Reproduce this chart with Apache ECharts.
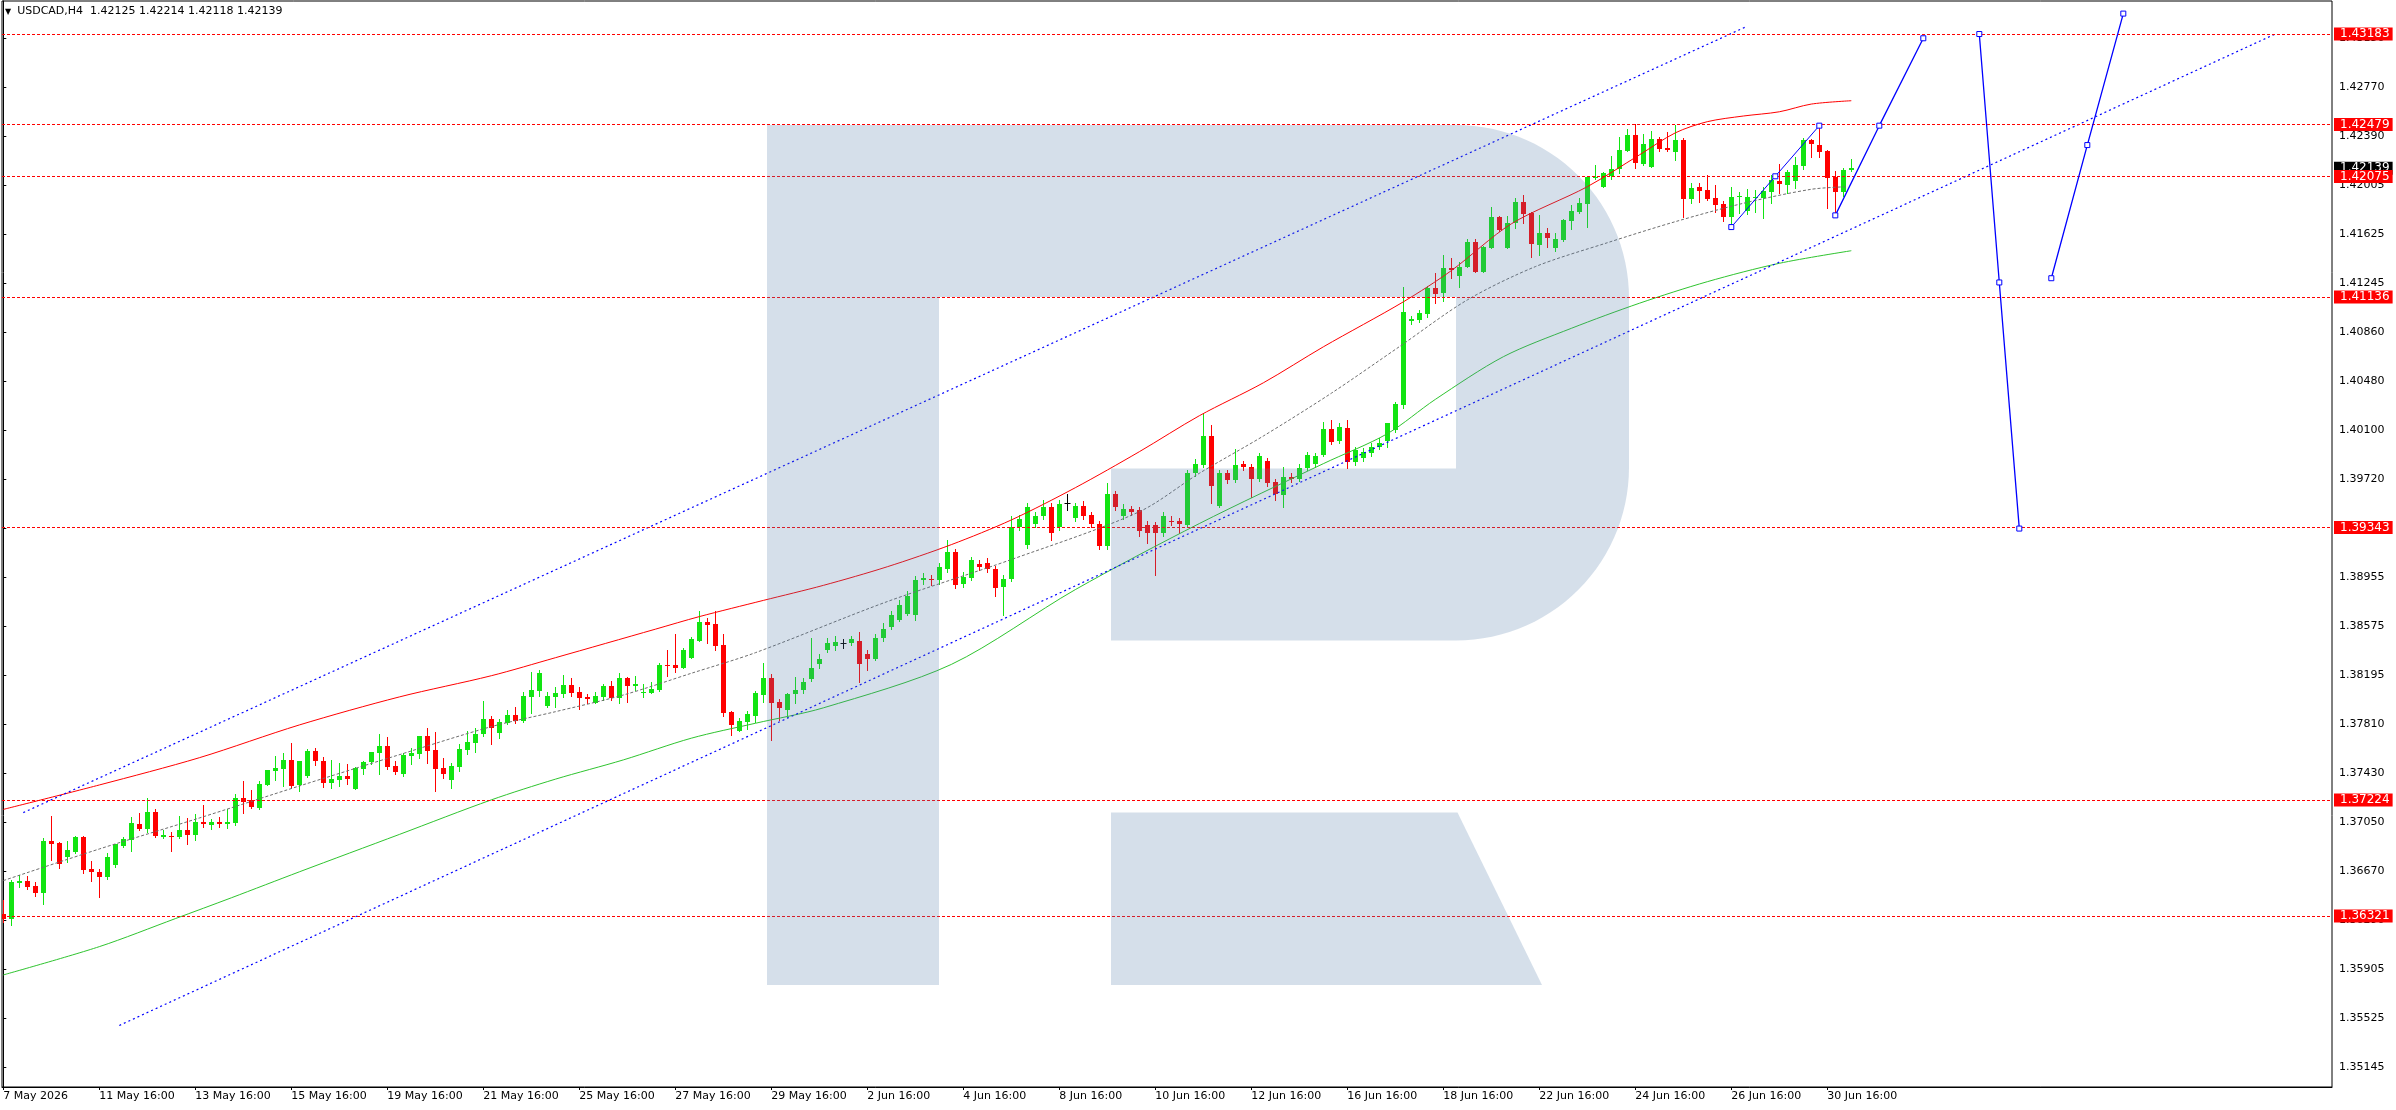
<!DOCTYPE html>
<html>
<head>
<meta charset="utf-8">
<script src="https://cdn.jsdelivr.net/npm/echarts@6/dist/echarts.min.js"></script>
<style>
html,body{margin:0;padding:0;background:#ffffff;}
#chart{width:2396px;height:1110px;}
</style>
</head>
<body>
<div id="chart"></div>
<script>
// ---------------- DATA ----------------
const symbolName = 'USDCAD,H4';

// H4 candles, one row per bar: [open, high, low, close]
const ohlc = [
[1.36336,1.36445,1.36277,1.36300],[1.36300,1.36601,1.36254,1.36585],[1.36580,1.36637,1.36549,1.36593],[1.36591,1.36632,1.36531,1.36549],
[1.36552,1.36585,1.36479,1.36502],[1.36502,1.36930,1.36417,1.36904],[1.36904,1.37099,1.36757,1.36883],[1.36889,1.36894,1.36697,1.36728],
[1.36783,1.36904,1.36741,1.36832],[1.36819,1.36946,1.36811,1.36935],[1.36935,1.36940,1.36655,1.36679],[1.36687,1.36746,1.36596,1.36666],
[1.36663,1.36689,1.36471,1.36627],[1.36627,1.36814,1.36609,1.36780],[1.36720,1.36884,1.36702,1.36881],[1.36865,1.36938,1.36855,1.36920],
[1.36915,1.37091,1.36829,1.37042],[1.37034,1.37122,1.36993,1.37000],[1.37000,1.37241,1.36977,1.37130],[1.37130,1.37153,1.36938,1.36946],
[1.36933,1.36990,1.36928,1.36948],[1.36946,1.36972,1.36827,1.36941],[1.36935,1.37099,1.36930,1.36990],[1.36990,1.37083,1.36883,1.36954],
[1.36954,1.37115,1.36915,1.37052],[1.37052,1.37184,1.37016,1.37039],[1.37031,1.37076,1.37000,1.37052],[1.37052,1.37091,1.37016,1.37039],
[1.37039,1.37153,1.37008,1.37052],[1.37044,1.37270,1.37031,1.37239],[1.37239,1.37371,1.37125,1.37210],[1.37221,1.37301,1.37164,1.37171],
[1.37164,1.37371,1.37151,1.37348],[1.37343,1.37460,1.37340,1.37457],[1.37452,1.37566,1.37381,1.37472],[1.37464,1.37589,1.37335,1.37534],
[1.37534,1.37669,1.37319,1.37330],[1.37340,1.37530,1.37296,1.37527],[1.37410,1.37623,1.37400,1.37604],[1.37604,1.37628,1.37496,1.37529],
[1.37527,1.37560,1.37327,1.37358],[1.37358,1.37534,1.37314,1.37387],[1.37381,1.37511,1.37335,1.37410],[1.37410,1.37503,1.37350,1.37389],
[1.37311,1.37480,1.37308,1.37472],[1.37467,1.37527,1.37428,1.37519],[1.37519,1.37600,1.37506,1.37597],[1.37592,1.37737,1.37428,1.37643],
[1.37643,1.37713,1.37462,1.37483],[1.37488,1.37527,1.37428,1.37441],
[1.37428,1.37587,1.37410,1.37576],[1.37566,1.37626,1.37504,1.37592],[1.37584,1.37724,1.37553,1.37721],[1.37721,1.37784,1.37514,1.37607],
[1.37613,1.37750,1.37296,1.37467],[1.37473,1.37550,1.37397,1.37428],[1.37379,1.37511,1.37317,1.37488],[1.37480,1.37662,1.37449,1.37620],
[1.37615,1.37760,1.37584,1.37675],[1.37667,1.37786,1.37597,1.37740],[1.37740,1.37994,1.37724,1.37854],[1.37854,1.37877,1.37659,1.37786],
[1.37747,1.37854,1.37706,1.37830],[1.37823,1.37924,1.37815,1.37885],[1.37885,1.37947,1.37825,1.37841],[1.37836,1.38064,1.37833,1.38033],
[1.38025,1.38219,1.37903,1.38079],[1.38072,1.38235,1.38033,1.38212],[1.37957,1.38064,1.37950,1.38033],[1.38025,1.38103,1.37950,1.38056],
[1.38048,1.38196,1.38025,1.38118],[1.38118,1.38173,1.38035,1.38059],[1.38064,1.38103,1.37934,1.38017],[1.38025,1.38048,1.37978,1.38012],
[1.37981,1.38064,1.37976,1.38033],[1.38025,1.38126,1.38000,1.38110],[1.38110,1.38149,1.38004,1.38020],[1.38017,1.38212,1.37981,1.38173],
[1.38173,1.38180,1.37986,1.38110],[1.38113,1.38188,1.38079,1.38126],[1.38056,1.38126,1.38025,1.38064],[1.38056,1.38142,1.38053,1.38087],
[1.38079,1.38289,1.38072,1.38274],[1.38274,1.38390,1.38188,1.38266],[1.38274,1.38515,1.38219,1.38253],[1.38250,1.38406,1.38247,1.38390],
[1.38331,1.38492,1.38328,1.38476],[1.38460,1.38694,1.38457,1.38608],[1.38608,1.38639,1.38445,1.38588],[1.38593,1.38694,1.38390,1.38422],
[1.38429,1.38515,1.37877,1.37900],[1.37908,1.37916,1.37729,1.37807],[1.37760,1.37862,1.37757,1.37838],[1.37830,1.37916,1.37776,1.37893],
[1.37877,1.38072,1.37830,1.38056],[1.38040,1.38289,1.37986,1.38173],[1.38173,1.38204,1.37690,1.37978],[1.37986,1.38009,1.37846,1.37939],
[1.37924,1.38053,1.37872,1.38048],
[1.38044,1.38184,1.37974,1.38077],[1.38077,1.38170,1.38058,1.38138],[1.38161,1.38487,1.38147,1.38254],[1.38278,1.38357,1.38254,1.38324],
[1.38394,1.38487,1.38371,1.38441],[1.38418,1.38497,1.38394,1.38450],[1.38441,1.38478,1.38404,1.38441],[1.38441,1.38497,1.38427,1.38478],
[1.38464,1.38534,1.38138,1.38278],[1.38361,1.38394,1.38231,1.38324],[1.38324,1.38511,1.38310,1.38487],[1.38487,1.38604,1.38464,1.38557],
[1.38571,1.38697,1.38557,1.38660],[1.38627,1.38777,1.38613,1.38744],[1.38674,1.38851,1.38660,1.38814],[1.38665,1.38963,1.38627,1.38931],
[1.38931,1.38991,1.38907,1.38954],[1.38945,1.38977,1.38898,1.38931],[1.38931,1.39071,1.38907,1.39038],[1.39024,1.39243,1.39001,1.39154],
[1.39154,1.39173,1.38870,1.38898],[1.38907,1.39001,1.38884,1.38959],[1.38954,1.39117,1.38931,1.39093],[1.39056,1.39093,1.39010,1.39038],
[1.39070,1.39103,1.39001,1.39024],[1.39024,1.39047,1.38814,1.38870],[1.38884,1.38977,1.38660,1.38945],[1.38945,1.39430,1.38926,1.39350],
[1.39350,1.39444,1.39327,1.39406],[1.39210,1.39537,1.39187,1.39504],[1.39374,1.39467,1.39350,1.39434],[1.39430,1.39560,1.39411,1.39504],
[1.39504,1.39537,1.39243,1.39304],[1.39350,1.39560,1.39327,1.39528],[1.39537,1.39607,1.39476,1.39537],[1.39420,1.39537,1.39397,1.39514],
[1.39514,1.39551,1.39411,1.39434],[1.39444,1.39467,1.39350,1.39374],[1.39374,1.39397,1.39178,1.39196],[1.39196,1.39691,1.39178,1.39607],
[1.39607,1.39630,1.39476,1.39504],[1.39430,1.39523,1.39406,1.39486],[1.39486,1.39514,1.39444,1.39467],[1.39476,1.39504,1.39280,1.39313],
[1.39364,1.39397,1.39224,1.39304],[1.39364,1.39383,1.38977,1.39304],[1.39304,1.39467,1.39280,1.39430],[1.39397,1.39430,1.39364,1.39388],
[1.39397,1.39420,1.39304,1.39374],[1.39364,1.39793,1.39350,1.39765],[1.39765,1.39877,1.39747,1.39835],[1.39831,1.40232,1.39817,1.40055],
[1.40055,1.40143,1.39537,1.39663],[1.39514,1.39793,1.39504,1.39770],[1.39770,1.39793,1.39691,1.39714],[1.39714,1.39952,1.39700,1.39826],
[1.39835,1.39859,1.39793,1.39817],[1.39817,1.39840,1.39584,1.39723],[1.39723,1.39924,1.39709,1.39896],[1.39859,1.39887,1.39663,1.39691],
[1.39700,1.39723,1.39560,1.39607],[1.39598,1.39817,1.39504,1.39737],[1.39737,1.39765,1.39700,1.39723],[1.39723,1.39840,1.39709,1.39803],
[1.39803,1.39933,1.39793,1.39910],[1.39840,1.39924,1.39817,1.39896],[1.39910,1.40167,1.39896,1.40111],
[1.40107,1.40180,1.39993,1.40011],[1.40019,1.40154,1.39998,1.40123],[1.40118,1.40180,1.39803,1.39854],[1.39854,1.39971,1.39831,1.39943],
[1.39887,1.39961,1.39863,1.39933],[1.39924,1.39999,1.39896,1.39971],[1.39971,1.40036,1.39952,1.40003],[1.40017,1.40160,1.39971,1.40154],
[1.40102,1.40323,1.40089,1.40304],[1.40297,1.41217,1.40271,1.41023],[1.40953,1.40989,1.40927,1.40963],[1.40958,1.41036,1.40945,1.41015],
[1.41005,1.41222,1.40984,1.41204],[1.41204,1.41326,1.41093,1.41160],[1.41165,1.41463,1.41108,1.41360],[1.41360,1.41438,1.41282,1.41347],
[1.41300,1.41412,1.41217,1.41373],[1.41373,1.41585,1.41368,1.41567],[1.41567,1.41585,1.41329,1.41334],[1.41334,1.41533,1.41329,1.41523],
[1.41521,1.41834,1.41515,1.41756],[1.41756,1.41767,1.41653,1.41658],[1.41521,1.41769,1.41515,1.41710],[1.41710,1.41904,1.41671,1.41873],
[1.41873,1.41930,1.41710,1.41782],[1.41793,1.41801,1.41445,1.41549],[1.41541,1.41775,1.41463,1.41632],[1.41632,1.41674,1.41528,1.41598],
[1.41518,1.41637,1.41497,1.41585],[1.41580,1.41741,1.41572,1.41736],[1.41731,1.41850,1.41663,1.41808],[1.41798,1.41907,1.41793,1.41865],
[1.41860,1.42078,1.41679,1.42068],[1.42062,1.42164,1.42052,1.42073],[1.41995,1.42112,1.41990,1.42099],[1.42078,1.42234,1.42052,1.42135],
[1.42135,1.42384,1.42104,1.42280],[1.42275,1.42444,1.42270,1.42397],[1.42397,1.42482,1.42143,1.42177],[1.42171,1.42405,1.42164,1.42327],
[1.42151,1.42428,1.42145,1.42363],[1.42363,1.42384,1.42272,1.42291],[1.42293,1.42423,1.42272,1.42278],[1.42267,1.42475,1.42202,1.42358],
[1.42358,1.42376,1.41759,1.41896],[1.41896,1.42021,1.41865,1.41985],[1.41990,1.42021,1.41873,1.41964],[1.41969,1.42083,1.41891,1.41896],
[1.41904,1.42008,1.41801,1.41852],[1.41860,1.41884,1.41731,1.41762],[1.41762,1.41995,1.41690,1.41912],[1.41912,1.41956,1.41793,1.41922],
[1.41808,1.41974,1.41782,1.41912],[1.41904,1.41969,1.41801,1.41917],[1.41904,1.41995,1.41749,1.41959],[1.41956,1.42086,1.41871,1.42047],
[1.42039,1.42171,1.41948,1.42013],[1.42008,1.42125,1.41948,1.42109],[1.42042,1.42228,1.41987,1.42164],[1.42158,1.42371,1.42130,1.42358],
[1.42358,1.42363,1.42228,1.42324],[1.42319,1.42467,1.42228,1.42267],[1.42272,1.42280,1.41826,1.42065],[1.42073,1.42117,1.41780,1.41956],
[1.41956,1.42138,1.41922,1.42125],[1.42125,1.42214,1.42118,1.42139]
];

// bottom axis: bar index of each date label and its text
const dateTickIndex = [0,12,24,36,48,60,72,84,96,108,120,132,144,156,168,180,192,204,216,228];
const dateTickLabels = ['7 May 2026','11 May 16:00','13 May 16:00','15 May 16:00','19 May 16:00','21 May 16:00',
  '25 May 16:00','27 May 16:00','29 May 16:00','2 Jun 16:00','4 Jun 16:00','8 Jun 16:00','10 Jun 16:00',
  '12 Jun 16:00','16 Jun 16:00','18 Jun 16:00','22 Jun 16:00','24 Jun 16:00','26 Jun 16:00','30 Jun 16:00'];

// right price scale ticks
const priceTicks = [1.43150,1.42770,1.42390,1.42005,1.41625,1.41245,1.40860,1.40480,1.40100,1.39720,1.39340,
  1.38955,1.38575,1.38195,1.37810,1.37430,1.37050,1.36670,1.36290,1.35905,1.35525,1.35145];

// horizontal support / resistance levels
const levels = [1.43183,1.42479,1.42075,1.41136,1.39343,1.37224,1.36321];

// moving averages, sampled [bar index, price]
const maRed = [[0,1.37150],[12,1.37340],[24.5,1.37552],[37,1.37807],[49.5,1.38025],[61,1.38190],[69,1.38330],
  [81.5,1.38552],[87,1.38650],[95,1.38776],[102.5,1.38893],[110.5,1.39038],[118.5,1.39210],[126,1.39402],
  [134,1.39653],[142,1.39933],[149.5,1.40213],[157.5,1.40469],[165,1.40749],[175,1.41099],[181,1.41342],
  [188.5,1.41706],[198,1.41995],[204.5,1.42242],[209,1.42414],[213,1.42501],[217.5,1.42545],[222,1.42578],
  [226,1.42638],[231,1.42664]];
const maGreen = [[0,1.35862],[12,1.36082],[21.5,1.36300],[28.5,1.36462],[37,1.36664],[49.5,1.36955],[61,1.37224],
  [69,1.37385],[77.5,1.37535],[86,1.37704],[94,1.37820],[102.5,1.37940],[118.5,1.38278],[134,1.38860],
  [149.5,1.39374],[165,1.39840],[173,1.40073],[179,1.40340],[187.5,1.40672],[196,1.40893],[204.5,1.41088],
  [213,1.41256],[222,1.41399],[231,1.41497]];
const maGray = [[0,1.36596],[12,1.36842],[24.5,1.37083],[37,1.37332],[48.5,1.37556],[61,1.37794],[69,1.37910],
  [77.5,1.38040],[86,1.38209],[94,1.38369],[110.5,1.38767],[126,1.39094],[142,1.39466],[149.5,1.39765],
  [157.5,1.40055],[166,1.40388],[174.5,1.40750],[183,1.41114],[191.5,1.41373],[200.5,1.41559],[209,1.41723],
  [217.5,1.41866],[226,1.41975],[230.5,1.41995]];

// trend channel (dotted)
const channelUpper = [[2.5,1.37125],[218,1.43244]];
const channelLower = [[14.5,1.35469],[284,1.43183]];

// wave marks and forecast path
const waveLast = [[216,1.41681],[221.5,1.42076],[227,1.42470]];
const forecastA = [[229,1.41772],[234.5,1.42470],[240,1.43150]];
const forecastB = [[247,1.43183],[249.5,1.41250],[252,1.39335]];
const forecastC = [[256,1.41283],[260.5,1.42319],[265,1.43342]];

// ---------------- CHART ----------------
const FONT = 'DejaVu Sans';
const BULL = '#12e412', BEAR = '#ff0000', DOJI = '#000000';
const X_MIN = -0.1625, X_MAX = 291.0875;
const Y_MIN = 1.34990, Y_MAX = 1.43440;

const candleData = ohlc.map((r, i) => [i, r[0], r[3], r[2], r[1]]);
const last = ohlc[ohlc.length - 1];

function renderCandle(params, api) {
  const i = api.value(0), o = api.value(1), c = api.value(2), l = api.value(3), h = api.value(4);
  const pO = api.coord([i, o]), pC = api.coord([i, c]);
  const pH = api.coord([i, h]), pL = api.coord([i, l]);
  const cx = Math.round(pO[0]) + 0.5;
  const color = c > o ? BULL : (c < o ? BEAR : DOJI);
  const children = [{
    type: 'line',
    shape: { x1: cx, y1: Math.round(pH[1]), x2: cx, y2: Math.round(pL[1]) + 1 },
    style: { stroke: color, lineWidth: 1 }
  }];
  if (o === c) {
    const yy = Math.round(pO[1]) + 0.5;
    children.push({ type: 'line', shape: { x1: cx - 3, y1: yy, x2: cx + 3, y2: yy }, style: { stroke: color, lineWidth: 1 } });
  } else {
    const top = Math.round(Math.min(pO[1], pC[1]));
    const bot = Math.round(Math.max(pO[1], pC[1]));
    children.push({ type: 'rect', shape: { x: cx - 2.5, y: top, width: 5, height: Math.max(1, bot - top) }, style: { fill: color } });
  }
  return { type: 'group', children: children };
}

function lineSeries(data, color, width, dash, extra) {
  return Object.assign({
    type: 'line', data: data, showSymbol: false, symbol: 'none', silent: true, clip: true,
    lineStyle: { color: color, width: width, type: dash || 'solid' }, z: 4
  }, extra || {});
}

function forecastSeries(data, width) {
  return {
    type: 'line', data: data, silent: true, clip: false, z: 6,
    symbol: 'rect', symbolSize: 5, showSymbol: true,
    itemStyle: { color: '#ffffff', borderColor: '#0000ff', borderWidth: 1 },
    lineStyle: { color: '#0000ff', width: width }
  };
}

// watermark outline (decoration, pixel geometry)
function arcPts(cx, cy, r, a0, a1, n) {
  const pts = [];
  for (let k = 0; k <= n; k++) {
    const a = (a0 + (a1 - a0) * k / n) * Math.PI / 180;
    pts.push([cx + r * Math.cos(a), cy + r * Math.sin(a)]);
  }
  return pts;
}
const logoBody = [[767,125]]
  .concat(arcPts(1456, 298, 173, -90, 0, 30))
  .concat(arcPts(1456, 467.5, 173, 0, 90, 30))
  .concat([[1111,640.5],[1111,468.5],[1456,468.5],[1456,297],[939,297],[939,985],[767,985]]);
const logoLeg = [[1111,812.6],[1457.5,812.6],[1542,985],[1111,985]];
const LOGO_FILL = 'rgba(82,123,169,0.243)';

const chart = echarts.init(document.getElementById('chart'), null, { renderer: 'canvas' });

const option = {
  animation: false,
  backgroundColor: '#ffffff',
  title: {
    left: 5, top: 6, padding: 0,
    text: '{t|▼}' + symbolName + '  ' + last.map(v => v.toFixed(5)).join(' '),
    textStyle: {
      fontFamily: FONT, fontSize: 11, fontWeight: 'normal', color: '#000000',
      rich: { t: { fontFamily: FONT, fontSize: 8, color: '#000000', padding: [0, 6, 0, 0] } }
    }
  },
  grid: {
    left: 2, right: 64, top: 1, bottom: 23,
    show: true, borderColor: '#000000', borderWidth: 1, backgroundColor: 'transparent'
  },
  xAxis: {
    type: 'value', min: X_MIN, max: X_MAX,
    splitLine: { show: false },
    axisLine: { show: true, onZero: false, lineStyle: { color: '#000000', width: 1 } },
    axisTick: { show: true, length: 3, customValues: dateTickIndex, lineStyle: { color: '#000000' } },
    axisLabel: {
      customValues: dateTickIndex, margin: 4, align: 'left',
      fontFamily: FONT, fontSize: 11, color: '#000000',
      formatter: v => dateTickLabels[dateTickIndex.indexOf(v)] || ''
    }
  },
  yAxis: {
    type: 'value', position: 'right', min: Y_MIN, max: Y_MAX,
    splitLine: { show: false },
    axisLine: { show: true, lineStyle: { color: '#000000', width: 1 } },
    axisTick: { show: true, length: 3, customValues: priceTicks, lineStyle: { color: '#000000' } },
    axisLabel: {
      customValues: priceTicks, margin: 7,
      fontFamily: FONT, fontSize: 11, color: '#000000',
      formatter: v => v.toFixed(5)
    }
  },
  series: [
    {
      type: 'custom', name: 'candles', renderItem: renderCandle, data: candleData,
      encode: { x: 0, y: [1, 2, 3, 4] }, clip: true, z: 3, silent: true
    },
    lineSeries(maGreen, '#2fc42f', 1, 'solid', { smooth: 0.3 }),
    lineSeries(maRed, '#ff0000', 1, 'solid', { smooth: 0.3 }),
    lineSeries(maGray, '#6e6e6e', 1, [3, 2], { smooth: 0.3 }),
    lineSeries(channelUpper, '#0000ff', 1.2, [2, 3]),
    lineSeries(channelLower, '#0000ff', 1.2, [2, 3]),
    forecastSeries(waveLast, 1),
    forecastSeries(forecastA, 1.3),
    forecastSeries(forecastB, 1.3),
    forecastSeries(forecastC, 1.3),
    {
      type: 'line', data: [[X_MIN, levels[0]]], showSymbol: false, symbol: 'none', silent: true,
      lineStyle: { opacity: 0 }, z: 5,
      markLine: {
        silent: true, animation: false, symbol: ['none', 'none'], precision: 5,
        lineStyle: { color: '#ff0000', width: 1, type: [3, 2] },
        label: {
          show: true, position: 'end', distance: 2,
          fontFamily: FONT, fontSize: 12, lineHeight: 13, color: '#ffffff',
          backgroundColor: '#ff0000', padding: [0, 3, 0, 6],
          formatter: p => Number(p.value).toFixed(5)
        },
        data: [{ yAxis: last[3], lineStyle: { color: 'rgba(0,0,0,0)', opacity: 1 }, label: { backgroundColor: '#000000', color: '#ffffff' } }]
          .concat(levels.map(v => ({ yAxis: v })))
      }
    }
  ],
  graphic: {
    elements: [
      { type: 'polygon', z: 100, silent: true, shape: { points: logoBody }, style: { fill: LOGO_FILL } },
      { type: 'polygon', z: 100, silent: true, shape: { points: logoLeg }, style: { fill: LOGO_FILL } }
    ]
  }
};

chart.setOption(option);
</script>
</body>
</html>
